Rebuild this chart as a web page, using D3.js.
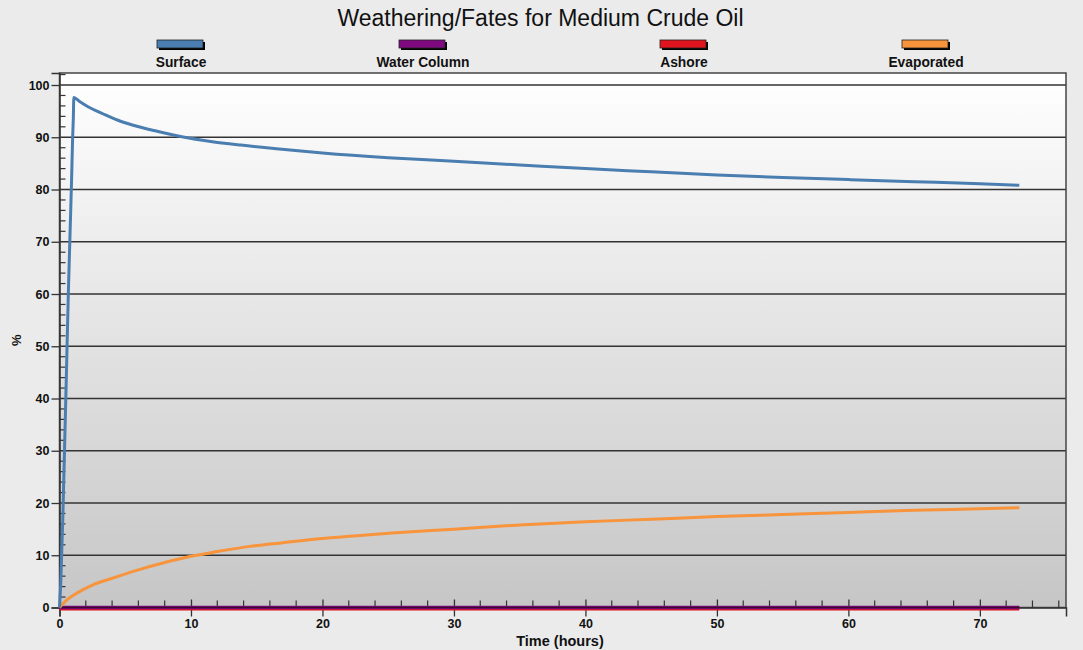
<!DOCTYPE html>
<html><head><meta charset="utf-8">
<script src="https://cdn.jsdelivr.net/npm/d3@7"></script>
<style>html,body{margin:0;padding:0;background:#ebebeb;}svg{display:block;font-family:"Liberation Sans",Arial,sans-serif;}</style>
</head><body><svg id="c" width="1083" height="650"></svg>
<script>
const title = "Weathering/Fates for Medium Crude Oil";
const seriesNames = ["Surface", "Water Column", "Ashore", "Evaporated"];
const seriesColors = ["#4a7db0", "#7f0a7f", "#e0141e", "#f7943c"];
const xTicks = [0,10,20,30,40,50,60,70];
const yTicks = [0,10,20,30,40,50,60,70,80,90,100];
// Surface (% vs hours)
const surfaceT = [0,0.1,0.25,0.33,0.5,0.67,0.83,0.92,1.0,1.05,1.09,1.5,2.2,3.3,4.4,5.6,7.5,9.4,11.5,13.8,16.5,20,25,30,35,40,45,50,55,60,65,70,73];
const surfaceV = [0,5,17,25,42,60,74,82,90,93.5,97.6,96.9,95.8,94.5,93.3,92.3,91.1,90.05,89.2,88.5,87.8,87,86.1,85.4,84.7,84,83.4,82.8,82.3,81.9,81.5,81.1,80.8];
// Evaporated
const evapT = [0,0.5,1.35,2.5,3.9,6,8,10,12,14.5,17,20,25,30,35,40,45,50,55,60,65,70,73];
const evapV = [0,1.3,2.8,4.3,5.5,7.2,8.6,9.8,10.7,11.7,12.4,13.2,14.2,15.0,15.8,16.4,16.9,17.4,17.8,18.2,18.6,18.9,19.1];
// Water column & Ashore (zero throughout)
const waterT = [0,73];
const waterV = [0,0];
const ashoreT = [0,73];
const ashoreV = [0,0];

const svg = d3.select("#c");
const L=59.5, R=1066, T=73, B=607.5;
const x = d3.scaleLinear().domain([0,76.55]).range([L,R]);
const y = d3.scaleLinear().domain([0,102.3]).range([B,T]);

// background gradient
const defs = svg.append("defs");
const g = defs.append("linearGradient").attr("id","bg").attr("x1",0).attr("x2",0).attr("y1",0).attr("y2",1);
g.append("stop").attr("offset","0%").attr("stop-color","#ffffff");
g.append("stop").attr("offset","100%").attr("stop-color","#c6c6c6");
svg.append("rect").attr("x",L).attr("y",T).attr("width",R-L).attr("height",B-T).attr("fill","url(#bg)");
svg.append("rect").attr("x",L).attr("y",T).attr("width",R-L).attr("height",y(100)-T).attr("fill","#fff");

// title
svg.append("text").attr("x",540.5).attr("y",26).attr("text-anchor","middle").attr("font-size",23).attr("fill","#111").text(title);

// legend
const legX = [181,423,684,926];
seriesNames.forEach((n,i)=>{
  const lg = svg.append("g");
  lg.append("rect").attr("x",legX[i]-22).attr("y",42).attr("width",46).attr("height",8).attr("fill","#000");
  lg.append("rect").attr("x",legX[i]-24).attr("y",40).attr("width",46).attr("height",8).attr("fill",seriesColors[i]).attr("stroke","#222").attr("stroke-width",0.8);
  lg.append("text").attr("x",legX[i]).attr("y",66.5).attr("text-anchor","middle").attr("font-size",13.8).attr("font-weight","bold").attr("fill","#111").text(n);
});

// gridlines
svg.append("g").selectAll("line").data(yTicks.filter(d=>d>0)).join("line")
  .attr("x1",L).attr("x2",R).attr("y1",d=>y(d)).attr("y2",d=>y(d)).attr("stroke","#333").attr("stroke-width",1.3);

// frame
svg.append("rect").attr("x",L).attr("y",T).attr("width",R-L).attr("height",B-T).attr("fill","none").attr("stroke","#444").attr("stroke-width",1.5);

// y axis: major outward ticks with labels, minor inward
const yAx = d3.axisLeft(y).tickValues(yTicks).tickSize(8).tickPadding(2).tickFormat(d3.format("d"));
const ya = svg.append("g").attr("transform",`translate(${L},0)`).call(yAx);
ya.select(".domain").attr("stroke","#333").attr("stroke-width",1.5);
ya.selectAll(".tick line").attr("stroke","#333").attr("stroke-width",1.3);
ya.selectAll("text").attr("font-size",12.5).attr("font-weight","bold").attr("fill","#111").attr("font-family","Liberation Sans, Arial, sans-serif");
const yMinor = d3.range(0,102.3,2).filter(d=>d%10!==0);
svg.append("g").selectAll("line").data(yMinor).join("line")
  .attr("x1",L).attr("x2",L+6).attr("y1",d=>y(d)).attr("y2",d=>y(d)).attr("stroke","#333").attr("stroke-width",1.2);

// x axis
const xAx = d3.axisBottom(x).tickValues(xTicks).tickSize(9).tickPadding(3).tickFormat(d3.format("d"));
const xa = svg.append("g").attr("transform",`translate(0,${B})`).call(xAx);
xa.select(".domain").attr("stroke","#333").attr("stroke-width",1.5);
xa.selectAll(".tick line").attr("stroke","#333").attr("stroke-width",1.3).attr("y1",-8);
xa.selectAll("text").attr("font-size",12.5).attr("font-weight","bold").attr("fill","#111").attr("font-family","Liberation Sans, Arial, sans-serif");
const xMinor = d3.range(2,76.55,2).filter(d=>d%10!==0);
svg.append("g").selectAll("line").data(xMinor).join("line")
  .attr("x1",d=>x(d)).attr("x2",d=>x(d)).attr("y1",B).attr("y2",B-7).attr("stroke","#333").attr("stroke-width",1.2);

// axis titles
svg.append("text").attr("x",560).attr("y",646).attr("text-anchor","middle").attr("font-size",14.5).attr("font-weight","bold").attr("fill","#111").text("Time (hours)");
svg.append("text").attr("transform",`translate(21,${(T+B)/2}) rotate(-90)`).attr("text-anchor","middle").attr("font-size",13).attr("font-weight","bold").attr("fill","#111").text("%");

// series
const line = d3.line().x(d=>x(d[0])).y(d=>y(d[1]));
const smooth = d3.line().x(d=>x(d[0])).y(d=>y(d[1])).curve(d3.curveMonotoneX);
const zip = (a,b)=>a.map((t,i)=>[t,b[i]]);
svg.append("path").datum(zip(ashoreT,ashoreV)).attr("d",line).attr("fill","none").attr("stroke",seriesColors[2]).attr("stroke-width",3).attr("transform","translate(0,1.5)");
svg.append("path").datum(zip(waterT,waterV)).attr("d",line).attr("fill","none").attr("stroke",seriesColors[1]).attr("stroke-width",3.5);
svg.append("path").datum(zip(waterT,waterV)).attr("d",line).attr("fill","none").attr("stroke","#3a0a30").attr("stroke-width",1.5);
svg.append("path").datum(zip(evapT,evapV)).attr("d",smooth).attr("fill","none").attr("stroke",seriesColors[3]).attr("stroke-width",3);
svg.append("path").datum(zip(surfaceT,surfaceV)).attr("d",smooth).attr("fill","none").attr("stroke",seriesColors[0]).attr("stroke-width",3).attr("stroke-linejoin","round");
</script></body></html>
